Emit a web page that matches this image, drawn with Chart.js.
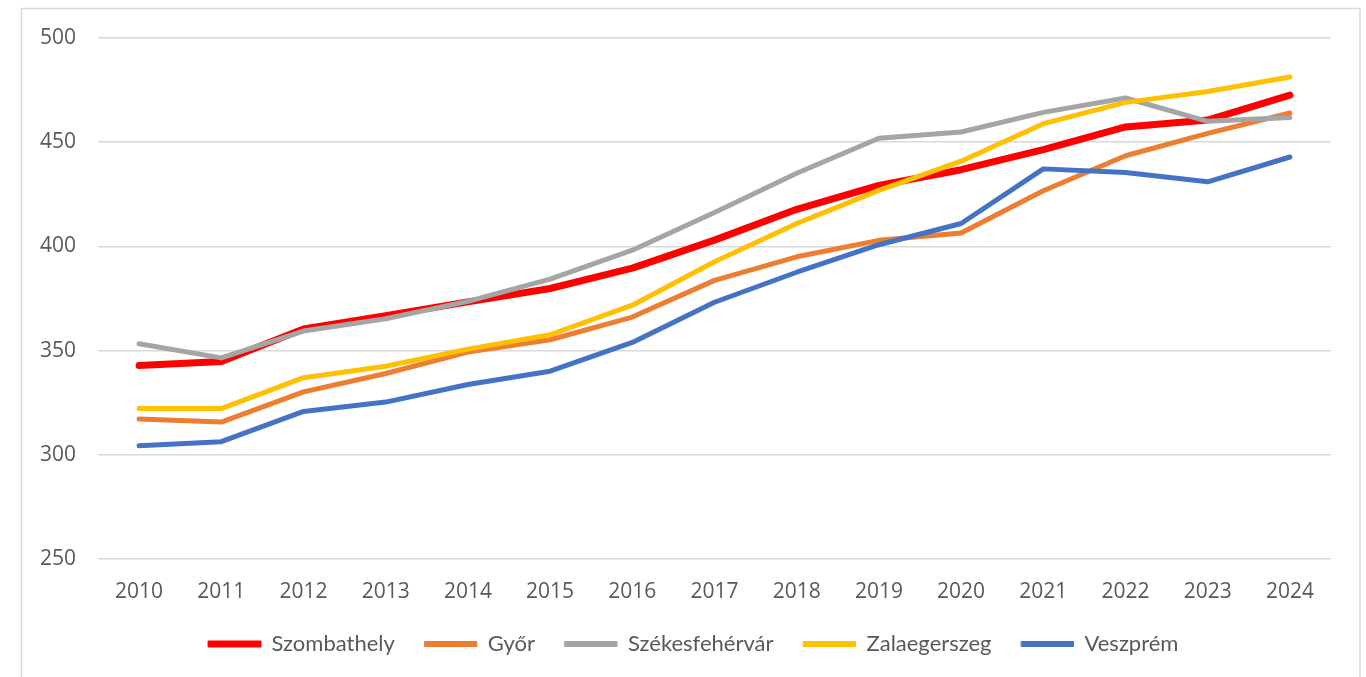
<!DOCTYPE html>
<html>
<head>
<meta charset="utf-8">
<script src="https://cdn.jsdelivr.net/npm/chart.js@4/dist/chart.umd.min.js"></script>
<style>
html,body{margin:0;padding:0;background:#fff;}
#wrap{width:1366px;height:677px;position:relative;}
</style>
</head>
<body>
<div id="wrap"><canvas id="c" width="1366" height="677"></canvas></div>
<script>
const years = ["2010","2011","2012","2013","2014","2015","2016","2017","2018","2019","2020","2021","2022","2023","2024"];
const szombathely = [342.8, 344.8, 360.4, 366.8, 373.4, 379.8, 389.6, 403, 417.8, 429.3, 436.8, 446.4, 457.3, 460.6, 472.6];
const gyor = [317.2, 315.7, 330.2, 339, 349.3, 355.2, 366.1, 383.7, 395, 402.9, 406.4, 426.7, 443.5, 454.2, 464];
const szekesfehervar = [353.3, 346.5, 359.4, 365.3, 373.6, 384.3, 398.2, 416.3, 435.1, 451.9, 454.9, 464.3, 471.2, 460, 461.9];
const zalaegerszeg = [322.2, 322.2, 337, 342.5, 350.7, 357.6, 371.8, 392.6, 411, 426.9, 440.9, 458.9, 469.1, 474.3, 481.3];
const veszprem = [304.3, 306.3, 320.8, 325.3, 333.7, 340.1, 353.9, 373.2, 387.6, 400.8, 411, 437.2, 435.5, 431, 442.9];
const seriesNames = ["Szombathely", "Győr", "Székesfehérvár", "Zalaegerszeg", "Veszprém"];
const yTicks = [250, 300, 350, 400, 450, 500];

const colors = ["#FF0000", "#ED7D31", "#A5A5A5", "#FFC000", "#4472C4"];
const widths = [7, 5, 5, 5, 5];
const values = [szombathely, gyor, szekesfehervar, zalaegerszeg, veszprem];

const frame = {
  id: 'frame',
  beforeDraw(chart) {
    const ctx = chart.ctx;
    ctx.save();
    ctx.fillStyle = '#ffffff';
    ctx.fillRect(0, 0, chart.width, chart.height);
    ctx.strokeStyle = '#d9d9d9';
    ctx.lineWidth = 1.5;
    ctx.strokeRect(21.5, 8.5, 1338.5, 720);
    ctx.restore();
  },
  afterLayout(chart) {
    if (chart.legend) {
      chart.legend.left += 13;
      chart.legend.right += 13;
    }
  }
};

new Chart(document.getElementById('c'), {
  type: 'line',
  data: {
    labels: years,
    datasets: values.map((v, i) => ({
      label: seriesNames[i],
      data: v,
      borderColor: colors[i],
      backgroundColor: colors[i],
      borderWidth: widths[i],
      pointRadius: 0,
      pointHoverRadius: 0,
      tension: 0,
      borderCapStyle: 'round',
      borderJoinStyle: 'round',
      fill: false,
      order: 4 - i
    }))
  },
  options: {
    responsive: false,
    animation: false,
    devicePixelRatio: 1,
    layout: { padding: { left: 30, right: 35, top: 38, bottom: 12 } },
    scales: {
      x: {
        offset: true,
        grid: { display: false, drawTicks: false },
        border: { display: false },
        ticks: {
          color: '#595959',
          font: { family: 'Open Sans', size: 21 },
          padding: 20,
          maxRotation: 0,
          autoSkip: false
        },
        afterFit(scale) { scale.height = 44; }
      },
      y: {
        min: 250,
        max: 500,
        afterBuildTicks(scale) { scale.ticks = yTicks.map(v => ({ value: v })); },
        grid: { color: '#d9d9d9', lineWidth: 1.5, drawTicks: false },
        border: { display: false },
        ticks: {
          color: '#595959',
          font: { family: 'Open Sans', size: 21 },
          padding: 22
        },
        afterFit(scale) { scale.width = 68; }
      }
    },
    plugins: {
      tooltip: { enabled: false },
      legend: {
        position: 'bottom',
        reverse: true,
        labels: {
          color: '#595959',
          font: { family: 'Lato', size: 22 },
          boxWidth: 52,
          boxHeight: 5,
          padding: 30,
          generateLabels(chart) {
            const items = Chart.defaults.plugins.legend.labels.generateLabels(chart);
            items.forEach(it => {
              const ds = chart.data.datasets[it.datasetIndex];
              it.fillStyle = ds.borderColor;
              it.strokeStyle = ds.borderColor;
              it.lineWidth = it.datasetIndex === 0 ? 2 : 1;
              it.lineCap = 'round';
              it.lineJoin = 'round';
              it.lineDash = [];
            });
            return items;
          }
        }
      }
    }
  },
  plugins: [frame]
});
</script>
</body>
</html>
